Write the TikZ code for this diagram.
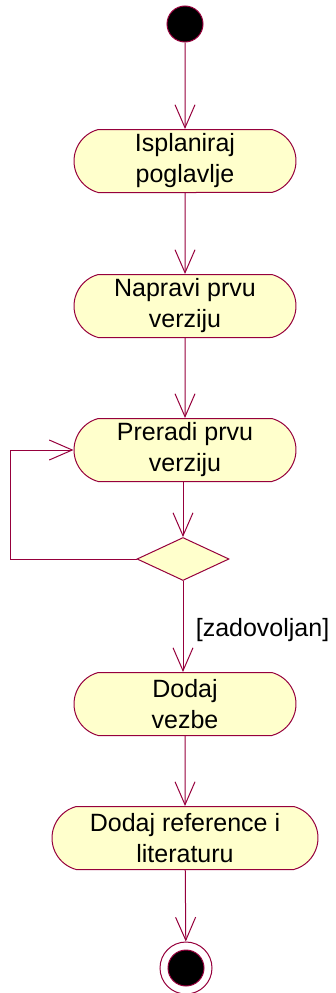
\documentclass[tikz,border=0pt]{standalone}
\usepackage{fontspec}
\setmainfont{Liberation Sans}
\usepackage{tikz}
\usetikzlibrary{arrows.meta}
\usetikzlibrary{shapes.misc}
\usetikzlibrary{shapes.geometric}
\definecolor{umlline}{RGB}{150,0,60}
\definecolor{umlfill}{RGB}{255,255,204}
\tikzset{
	activity/.style={rounded rectangle, rounded rectangle arc length=150, draw=umlline, fill=umlfill, line width=1pt, minimum width=222pt, minimum height=63pt, inner sep=0pt, align=center, font=\fontsize{25}{31}\selectfont},
	decision/.style={diamond, draw=umlline, fill=umlfill, line width=1pt, minimum width=92pt, minimum height=43pt, inner sep=0pt},
	flow/.style={draw=umlline, line width=1pt, -{Straight Barb[length=23pt, width=20pt]}}
}
\begin{document}
\begin{tikzpicture}[x=1pt, y=-1pt]
				\useasboundingbox (0,0) rectangle (335,993);
				\node[circle, draw=umlline, fill=black, line width=1pt, minimum size=36pt, inner sep=0pt] (start) at (185,24) {};
				\node[activity] (plan) at (185,161) {Isplaniraj\\poglavlje};
				\node[activity] (draft) at (185,306) {Napravi prvu\\verziju};
				\node[activity] (revise) at (185,450) {Preradi prvu\\verziju};
				\node[decision] (check) at (183,559) {};
				\node[activity] (exercises) at (185,704) {Dodaj\\vezbe};
				\node[activity, minimum width=266pt] (refs) at (185,838) {Dodaj reference i\\literaturu};
				\node[circle, draw=umlline, fill=white, line width=1pt, minimum size=52pt, inner sep=0pt] (end) at (186,968) {};
				\node[circle, draw=umlline, fill=black, line width=1pt, minimum size=36pt, inner sep=0pt] (endin) at (186,968) {};
				
				\draw[flow] (start) -- (plan);
				\draw[flow] (plan) -- (draft);
				\draw[flow] (draft) -- (revise);
				\draw[flow] (revise.south -| check) -- (check);
				\draw[flow] (check.west) -- (10,559) |- (revise.west);
				\draw[flow] (check) -- (check |- exercises.north) node[midway, right, xshift=9pt, yshift=-4pt, font=\fontsize{25}{31}\selectfont] {[zadovoljan]};
				\draw[flow] (exercises) -- (refs);
				\draw[flow] (refs) -- (end);
			\end{tikzpicture}
\end{document}
